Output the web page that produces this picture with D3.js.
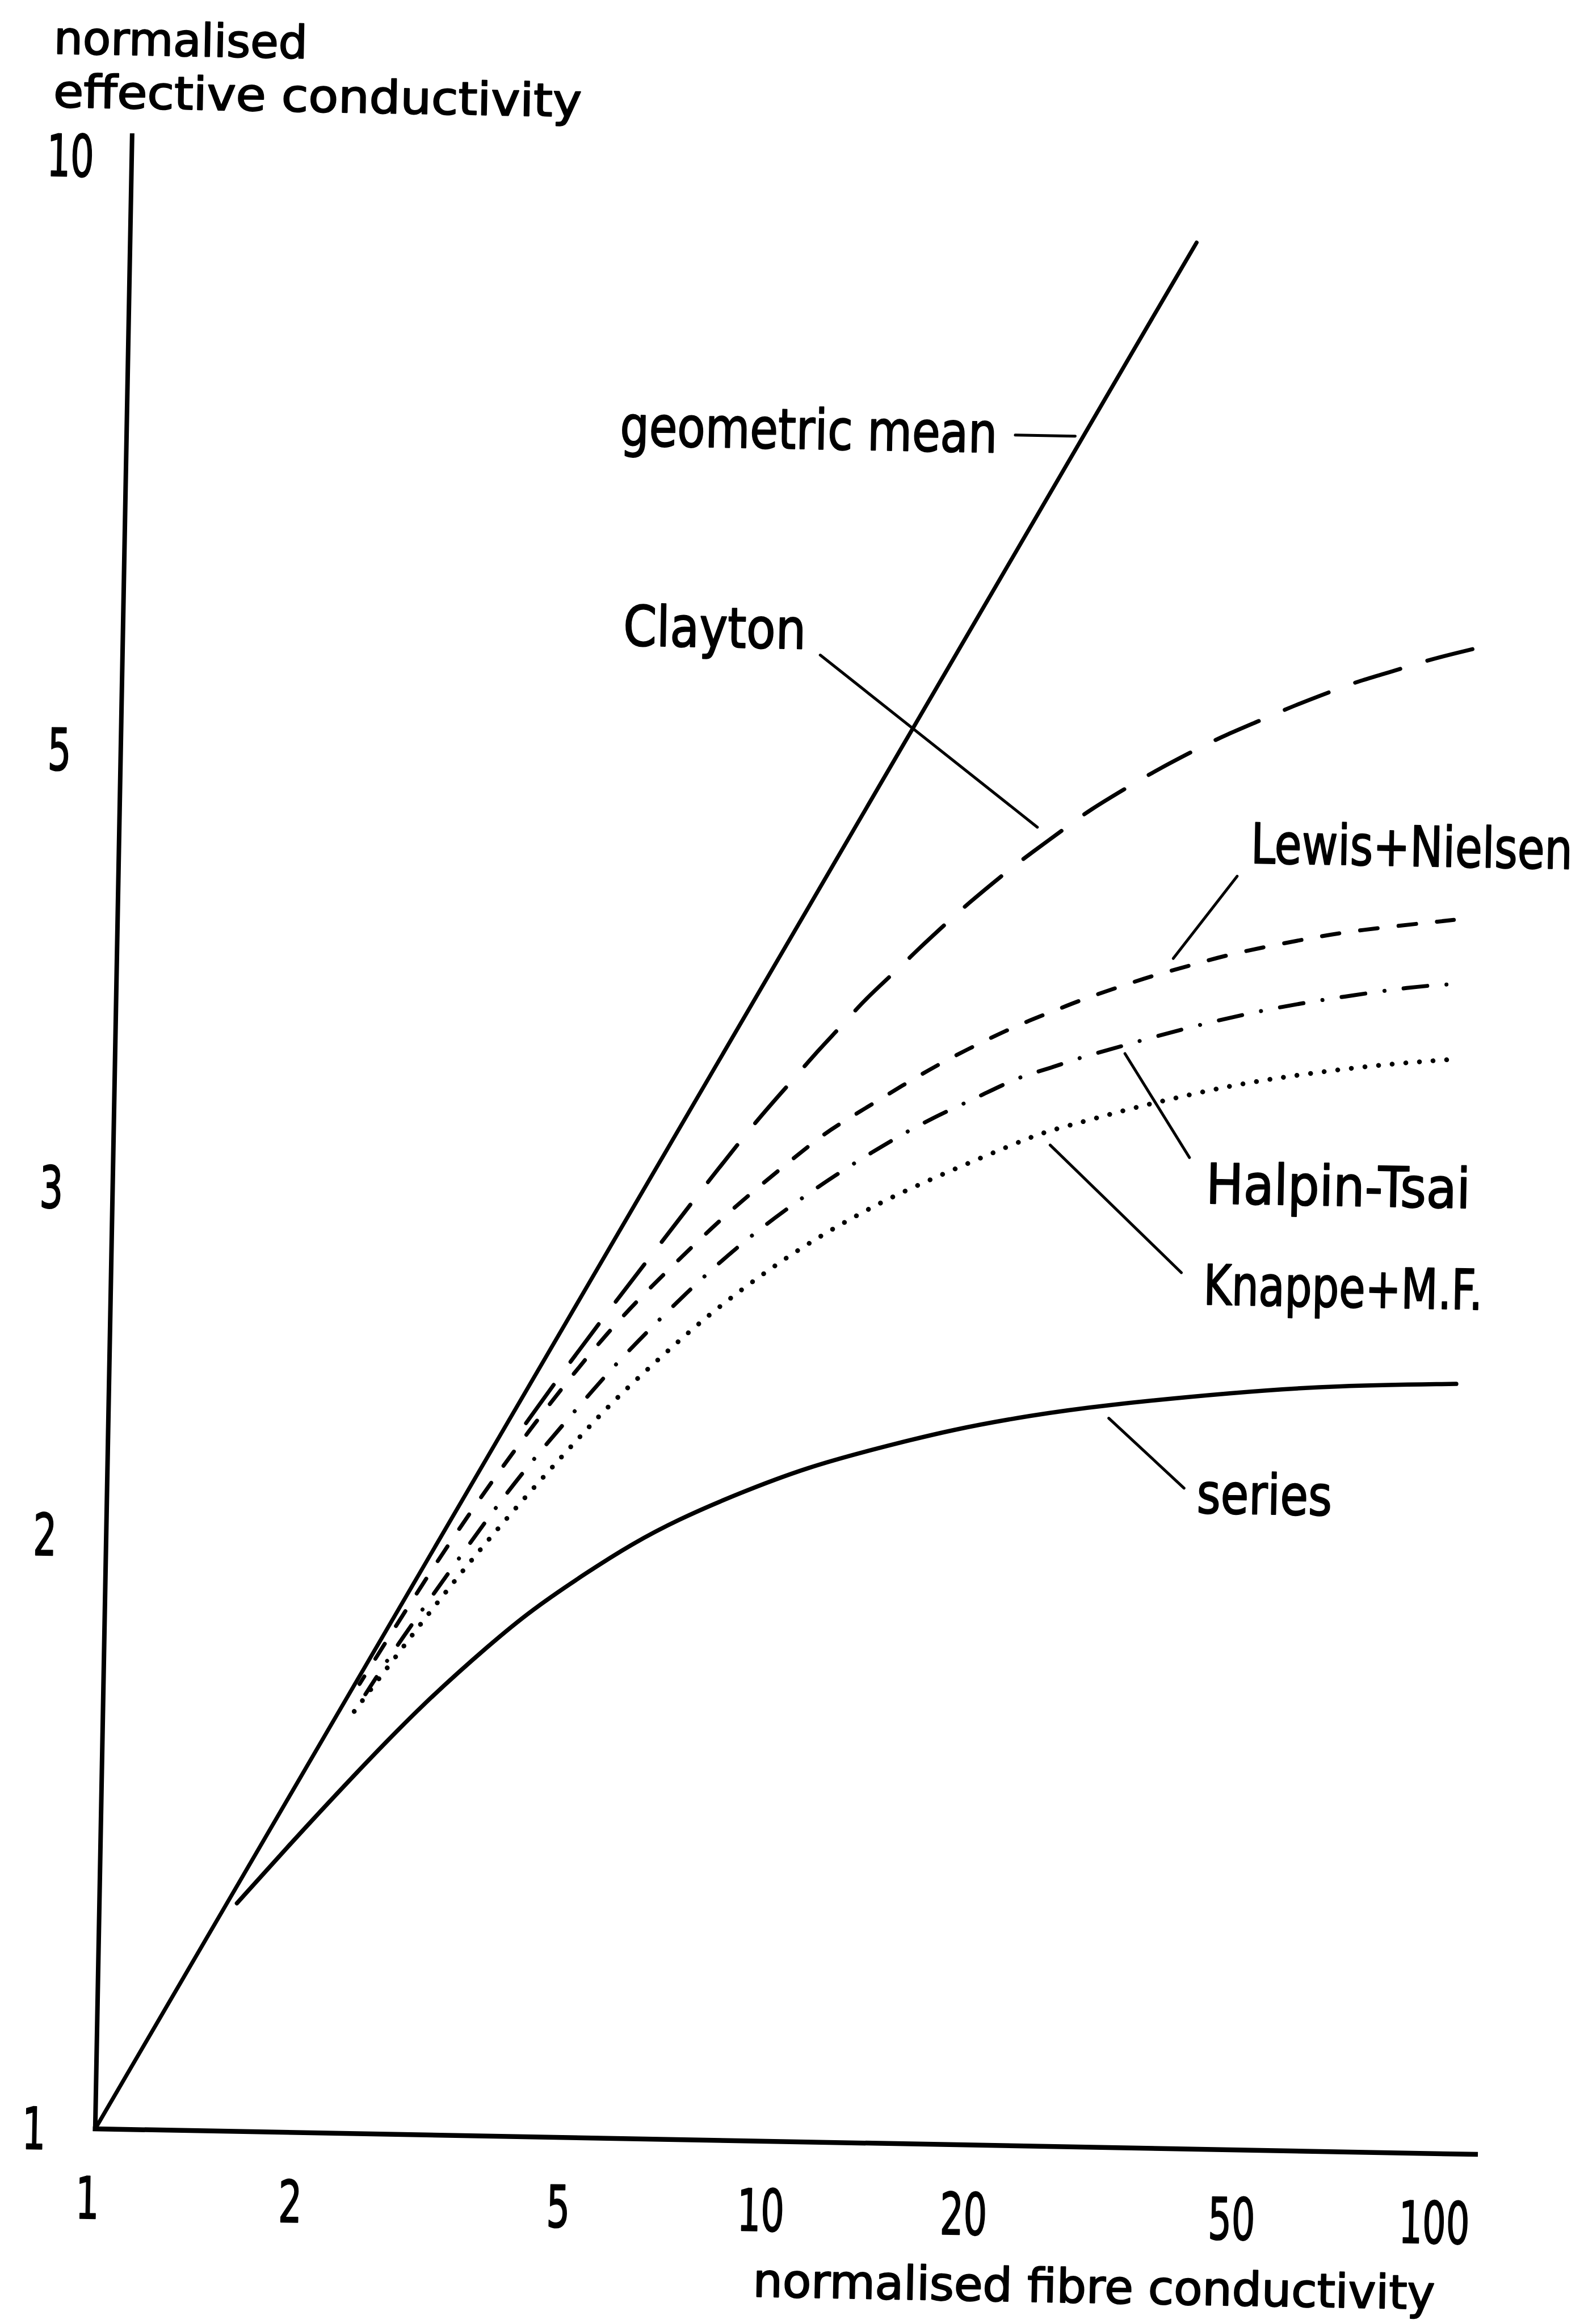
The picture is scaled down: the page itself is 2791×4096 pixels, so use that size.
<!DOCTYPE html>
<html>
<head>
<meta charset="utf-8">
<script src="https://cdn.jsdelivr.net/npm/d3@7"></script>
<style>
  html, body { margin: 0; padding: 0; background: #ffffff; }
  svg { display: block; }
  svg text { stroke: #000; stroke-width: 2.2px; stroke-linejoin: round; }
</style>
</head>
<body>
<script>
// Tick values on both logarithmic axes
const xTicks = [1, 2, 5, 10, 20, 50, 100];
const yTicks = [1, 2, 3, 5, 10];

// Effective conductivity curves: [normalised fibre conductivity, normalised effective conductivity]
const geometricMean = [[1, 1], [10.75, 4.26], [31.1, 8.15], [38.3, 9.25]];
const clayton = [[3.98, 2.247], [4.76, 2.455], [5.49, 2.626], [6.40, 2.818], [7.51, 3.034], [9.02, 3.294],
  [10.13, 3.447], [10.91, 3.557], [12.09, 3.695], [12.89, 3.794], [14.6, 3.95], [15.43, 4.029], [17.14, 4.169],
  [18.09, 4.243], [20.96, 4.43], [22.4, 4.51], [25.74, 4.675], [27.4, 4.754], [31.34, 4.893], [34.4, 4.99],
  [39.9, 5.13], [43.6, 5.21], [50.1, 5.32], [55.0, 5.40], [62.9, 5.50], [68.5, 5.565], [77.9, 5.64],
  [86.4, 5.71], [100.9, 5.79]];
const lewisNielsen = [[2.4, 1.69], [3.2, 1.99], [4.2, 2.28], [5.54, 2.578], [6.75, 2.763], [8.15, 2.948],
  [9.98, 3.128], [11.35, 3.245], [12.24, 3.299], [13.7, 3.381], [14.55, 3.426], [17.06, 3.543], [21.36, 3.686],
  [24.0, 3.747], [27.1, 3.814], [30.5, 3.87], [34.6, 3.93], [39.4, 3.98], [45.3, 4.04], [59.3, 4.12],
  [68.7, 4.16], [96.3, 4.22]];
const halpinTsai = [[2.45, 1.67], [2.72, 1.77], [3.42, 1.983], [3.87, 2.106], [4.31, 2.21], [4.91, 2.332],
  [5.65, 2.47], [6.49, 2.596], [7.36, 2.712], [8.51, 2.84], [9.91, 2.961], [11.77, 3.09], [14.24, 3.222],
  [16.37, 3.311], [19.19, 3.398], [22.1, 3.484], [24.1, 3.512], [27.4, 3.57], [28.9, 3.587], [35.2, 3.663],
  [43.3, 3.735], [53.6, 3.80], [66.5, 3.85], [84.0, 3.90], [94.3, 3.913]];
const knappeMF = [[2.31, 1.62], [2.79, 1.77], [3.2, 1.885], [3.84, 2.04], [4.78, 2.224], [5.55, 2.356],
  [6.47, 2.477], [7.47, 2.593], [8.78, 2.713], [10.66, 2.846], [12.79, 2.954], [15.07, 3.045], [22.2, 3.23],
  [24.3, 3.269], [28.3, 3.318], [32.8, 3.368], [38.3, 3.413], [48.0, 3.478], [71.9, 3.553], [94.8, 3.584]];
const series = [[1.6, 1.305], [1.87, 1.388], [2.35, 1.515], [2.99, 1.655], [3.76, 1.778], [4.28, 1.847],
  [5.2, 1.936], [6.04, 2.002], [7.02, 2.06], [8.65, 2.128], [10.95, 2.198], [13.87, 2.25], [18.04, 2.305],
  [23.45, 2.346], [29.25, 2.375], [47.2, 2.421], [66.5, 2.445], [100, 2.456]];

// ---- layout ----
const W = 2791, H = 4096;
const origin = [167.8, 3752];   // where (1, 1) sits on the page
const tilt = 1.06;              // the drawing sits slightly rotated on the sheet
const font = "'DejaVu Sans', 'Liberation Sans', sans-serif";

const x = d3.scaleLog().domain([1, 100]).range([0, 2373.4]);
const y = d3.scaleLog().domain([1, 10]).range([0, -3477.6]);

const svg = d3.select("body").append("svg")
  .attr("width", W).attr("height", H)
  .attr("viewBox", `0 0 ${W} ${H}`);
svg.append("rect").attr("width", W).attr("height", H).attr("fill", "#ffffff");

const g = svg.append("g")
  .attr("transform", `translate(${origin[0]},${origin[1]}) rotate(${tilt})`);

// ---- axes ----
const xAxis = g.append("g").attr("class", "x-axis")
  .call(d3.axisBottom(x).tickValues(xTicks).tickFormat(d3.format("d")).tickSize(0));
const yAxis = g.append("g").attr("class", "y-axis")
  .call(d3.axisLeft(y).tickValues(yTicks).tickFormat(d3.format("d")).tickSize(0));
g.selectAll(".domain").remove();

xAxis.selectAll(".tick text")
  .attr("x", 0).attr("y", 0).attr("dy", null)
  .attr("text-anchor", "middle")
  .attr("transform", "translate(-12,158) scale(0.64,1)")
  .attr("font-family", font).attr("font-size", 102).attr("fill", "#000");

yAxis.selectAll(".tick text")
  .attr("x", 0).attr("y", 0).attr("dy", null)
  .attr("text-anchor", "middle")
  .attr("transform", "translate(-108,37) scale(0.64,1)")
  .attr("font-family", font).attr("font-size", 102).attr("fill", "#000");

// axis lines run a little beyond the last tick
g.append("line")
  .attr("x1", x(1)).attr("y1", y(1)).attr("x2", x(1)).attr("y2", y(10) - 36)
  .attr("stroke", "#000").attr("stroke-width", 8).attr("stroke-linecap", "square");
g.append("line")
  .attr("x1", x(1)).attr("y1", y(1)).attr("x2", x(100) + 59).attr("y2", y(1))
  .attr("stroke", "#000").attr("stroke-width", 8.5).attr("stroke-linecap", "square");

// Text squeezed horizontally to a given width (narrow drafting lettering)
function fitted(parent, text, px, py, size, width) {
  const t = parent.append("text")
    .attr("x", 0).attr("y", 0)
    .attr("font-family", font).attr("font-size", size).attr("fill", "#000")
    .text(text);
  const natural = t.node().getComputedTextLength() || width;
  t.attr("transform", `translate(${px},${py}) scale(${width / natural},1)`);
  return t;
}

// ---- axis titles ----
fitted(g, "normalised", x(1) - 141, y(10) - 178, 80, 447);
fitted(g, "effective conductivity", x(1) - 140, y(10) - 84, 80, 931);
fitted(g, "normalised fibre conductivity", x(10) - 23, y(1) + 274, 82, 1202);

// ---- curves ----
// "end" is where the dash pattern should finish: at the close of a dash or on a dot
const line = d3.line().x(d => x(d[0])).y(d => y(d[1]));
const curves = [
  { data: geometricMean, curve: d3.curveLinear, width: 7, dash: null },
  { data: series, curve: d3.curveBasis, width: 7.5, dash: null },
  { data: clayton, curve: d3.curveBasis, width: 7, dash: [83, 50], end: 82 },
  { data: lewisNielsen, curve: d3.curveBasis, width: 7, dash: [31, 37], end: 30 },
  { data: halpinTsai, curve: d3.curveBasis, width: 7, dash: [42, 34, 0.1, 34], end: 76.05 },
  { data: knappeMF, curve: d3.curveBasis, width: 8.5, dash: [0.1, 24], end: 0.05 }
];
g.append("g").attr("class", "curves").selectAll("path")
  .data(curves).join("path")
  .attr("d", c => line.curve(c.curve)(c.data))
  .attr("fill", "none")
  .attr("stroke", "#000")
  .attr("stroke-width", c => c.width)
  .attr("stroke-linecap", "round")
  .attr("stroke-linejoin", "round")
  .attr("stroke-dasharray", c => c.dash ? c.dash.join(" ") : null)
  .each(function (c) {
    if (!c.dash) return;
    const period = d3.sum(c.dash);
    const len = this.getTotalLength();
    const off = ((c.end - len) % period + period) % period;
    d3.select(this).attr("stroke-dashoffset", off);
  });

// ---- curve names with leader lines (anchored in data units) ----
const callouts = [
  { text: "geometric mean", at: [5.40, 7.21], width: 665, leader: [[20.86, 7.36], [25.6, 7.36]] },
  { text: "Clayton", at: [5.53, 5.71], width: 322, leader: [[10.86, 5.67], [23.06, 4.66]] },
  { text: "Lewis+Nielsen", at: [47.9, 4.49], width: 567, leader: [[45.8, 4.42], [37.0, 4.01]] },
  { text: "Halpin-Tsai", at: [42.0, 3.016], width: 466, leader: [[31.56, 3.585], [39.6, 3.18]] },
  { text: "Knappe+M.F.", at: [41.9, 2.68], width: 492, leader: [[24.58, 3.217], [38.8, 2.78]] },
  { text: "series", at: [41.5, 2.101], width: 238, leader: [[30.56, 2.342], [39.7, 2.162]] }
];
const ann = g.append("g").attr("class", "callouts");
ann.selectAll("line").data(callouts).join("line")
  .attr("x1", d => x(d.leader[0][0])).attr("y1", d => y(d.leader[0][1]))
  .attr("x2", d => x(d.leader[1][0])).attr("y2", d => y(d.leader[1][1]))
  .attr("stroke", "#000").attr("stroke-width", 5).attr("stroke-linecap", "round");
callouts.forEach(d => fitted(ann, d.text, x(d.at[0]), y(d.at[1]), 98, d.width));
</script>
</body>
</html>
